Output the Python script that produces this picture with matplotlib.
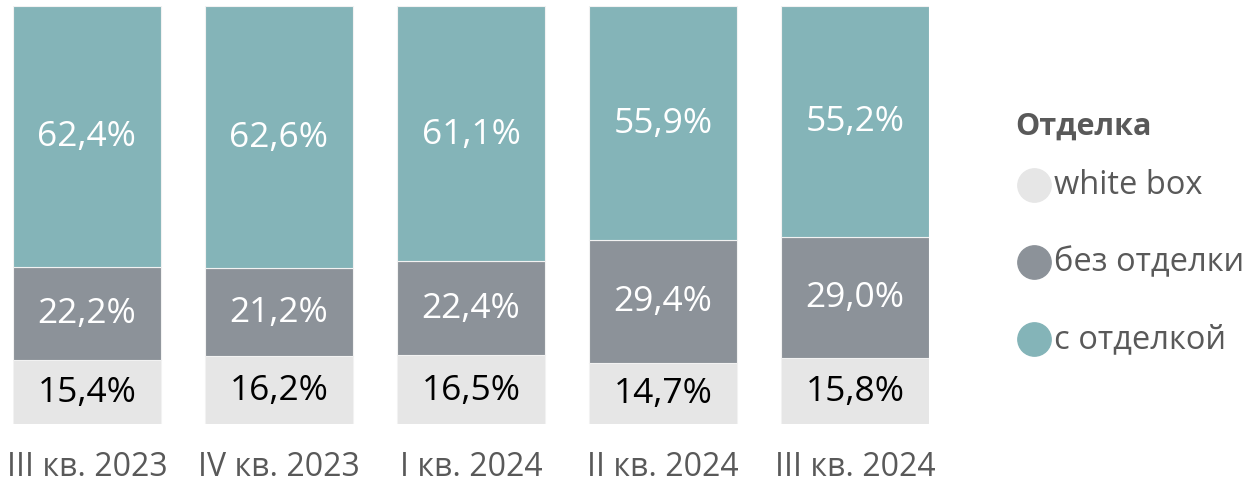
import numpy as np
import matplotlib.pyplot as plt

plt.rcParams['font.family'] = ['Open Sans', 'DejaVu Sans']

quarters = ['III кв. 2023', 'IV кв. 2023', 'I кв. 2024', 'II кв. 2024', 'III кв. 2024']
white_box = [15.4, 16.2, 16.5, 14.7, 15.8]
bez_otdelki = [22.2, 21.2, 22.4, 29.4, 29.0]
s_otdelkoi = [62.4, 62.6, 61.1, 55.9, 55.2]
series_names = ['white box', 'без отделки', 'с отделкой']
legend_title = 'Отделка'
colors = ['#E6E6E6', '#8C9299', '#84B4B8']
text_colors = ['black', 'white', 'white']

W, H = 1251, 485
fig = plt.figure(figsize=(W / 100, H / 100), dpi=100)
ax = fig.add_axes([13 / W, 60 / H, (929 - 13) / W, (478 - 60) / H])

x = np.arange(len(quarters))
bottom = np.zeros(len(quarters))
for vals, col, tc in zip([white_box, bez_otdelki, s_otdelkoi], colors, text_colors):
    vals = np.array(vals)
    ax.bar(x, vals, bottom=bottom, width=0.77, color=col, edgecolor='#F2F2F2', linewidth=0.8)
    for xi, b, v in zip(x, bottom, vals):
        ax.text(xi, b + v / 2, f'{v:.1f}%'.replace('.', ','), ha='center', va='center',
                fontsize=25.5, color=tc)
    bottom += vals

ax.set_xlim(-0.385, 4.385)
ax.set_ylim(0, 100)
ax.set_xticks(x)
ax.set_xticklabels(quarters, fontsize=23, color='#595959')
ax.tick_params(axis='x', length=0, pad=19)
ax.set_yticks([])
for s in ax.spines.values():
    s.set_visible(False)

# legend drawn by hand in pixel coords
lax = fig.add_axes([0, 0, 1, 1], zorder=-1)
lax.set_xlim(0, W)
lax.set_ylim(H, 0)
lax.axis('off')
lax.text(1015, 127, legend_title, fontsize=22, fontweight='bold', color='#595959',
         ha='left', va='center')
for i, (name, col) in enumerate(zip(series_names, colors)):
    y = 186 + i * 77
    lax.plot([1034], [y], marker='o', markersize=24, color=col, linestyle='')
    lax.text(1054, y, name, fontsize=23.5, color='#595959', ha='left', va='center')

fig.savefig('out.png', dpi=100)
